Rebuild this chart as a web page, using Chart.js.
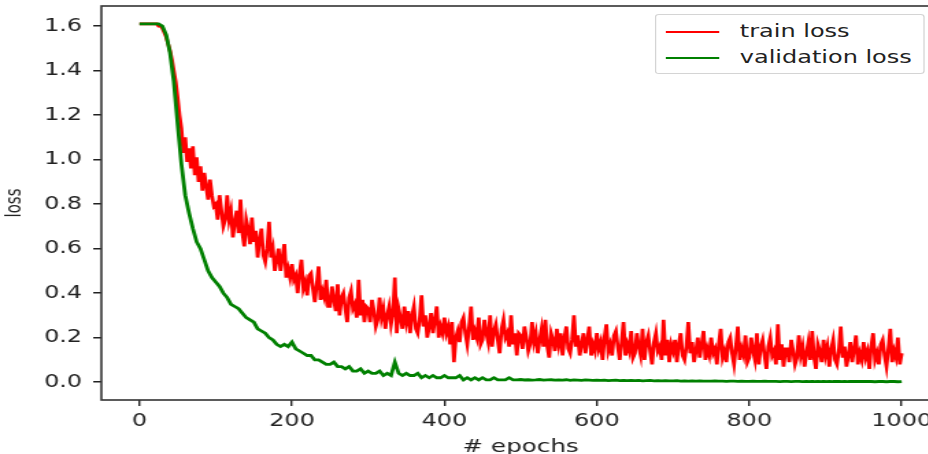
<!DOCTYPE html>
<html>
<head>
<meta charset="utf-8">
<script src="https://cdn.jsdelivr.net/npm/chart.js@4.4.0/dist/chart.umd.min.js"></script>
<style>
    html, body { margin: 0; padding: 0; background: #fff; overflow: hidden; }
    #wrap { position: relative; width: 928px; height: 454px; overflow: hidden; }
    /* the source figure is stretched sideways, so draw narrow and widen */
    #plot { position: absolute; left: 0; top: 0; width: 690px; height: 454px; transform: scaleX(1.37); transform-origin: 0 0; }
    #lossChart { position: absolute; left: 0; top: 0; }
    #legend {
        position: absolute; left: 478px; top: 14px; width: 195px; height: 58px;
        border: 1px solid #d4d4d4; border-radius: 3px; background: #fff;
        font-family: "DejaVu Sans", sans-serif; font-size: 17.5px; color: #222;
    }
    .item { position: absolute; left: 7px; height: 22px; line-height: 22px; white-space: nowrap; }
    .swatch { display: inline-block; width: 39px; height: 2.5px; vertical-align: middle; margin-right: 15px; }
</style>
</head>
<body>
<div id="wrap">
  <div id="plot">
    <canvas id="lossChart" width="690" height="454"></canvas>
    <div id="legend">
        <div class="item" style="top:5px"><span class="swatch" style="background:#ff0000"></span>train loss</div>
        <div class="item" style="top:31px"><span class="swatch" style="background:#008000"></span>validation loss</div>
    </div>
  </div>
</div>
<script>
const trainLoss = [
    1.61, 1.61, 1.61, 1.61, 1.61, 1.61, 1.61, 1.61, 1.61, 1.61, 1.60, 1.60, 1.59, 1.57, 1.55, 1.52, 1.49, 1.45, 1.40, 1.35,
    1.28, 1.20, 1.14, 1.03, 1.10, 0.99, 1.05, 0.96, 1.06, 0.93, 1.01, 0.90, 0.97, 0.86, 0.94, 0.88, 0.82, 0.91, 0.84, 0.79,
    0.80, 0.73, 0.84, 0.77, 0.70, 0.73, 0.84, 0.73, 0.77, 0.65, 0.72, 0.77, 0.67, 0.82, 0.67, 0.61, 0.73, 0.69, 0.62, 0.74,
    0.63, 0.68, 0.56, 0.64, 0.69, 0.57, 0.54, 0.60, 0.72, 0.56, 0.60, 0.50, 0.55, 0.60, 0.50, 0.56, 0.62, 0.47, 0.51, 0.47,
    0.53, 0.46, 0.48, 0.40, 0.49, 0.55, 0.42, 0.45, 0.39, 0.48, 0.49, 0.42, 0.36, 0.44, 0.52, 0.37, 0.41, 0.38, 0.46, 0.34,
    0.34, 0.43, 0.37, 0.32, 0.44, 0.30, 0.38, 0.40, 0.33, 0.27, 0.38, 0.41, 0.33, 0.35, 0.29, 0.46, 0.30, 0.37, 0.27, 0.34,
    0.33, 0.27, 0.37, 0.32, 0.25, 0.28, 0.38, 0.29, 0.33, 0.24, 0.30, 0.34, 0.26, 0.31, 0.47, 0.22, 0.33, 0.29, 0.24, 0.34,
    0.27, 0.32, 0.22, 0.30, 0.34, 0.24, 0.22, 0.28, 0.39, 0.25, 0.30, 0.20, 0.25, 0.31, 0.22, 0.28, 0.34, 0.20, 0.25, 0.22,
    0.29, 0.22, 0.25, 0.17, 0.27, 0.09, 0.20, 0.23, 0.18, 0.27, 0.29, 0.22, 0.17, 0.25, 0.34, 0.19, 0.23, 0.20, 0.29, 0.17,
    0.19, 0.28, 0.22, 0.18, 0.30, 0.16, 0.23, 0.26, 0.19, 0.13, 0.24, 0.28, 0.20, 0.22, 0.16, 0.30, 0.17, 0.22, 0.12, 0.22,
    0.21, 0.15, 0.25, 0.20, 0.14, 0.17, 0.27, 0.18, 0.22, 0.13, 0.19, 0.24, 0.16, 0.28, 0.16, 0.11, 0.22, 0.19, 0.14, 0.24,
    0.17, 0.22, 0.12, 0.20, 0.25, 0.15, 0.13, 0.19, 0.30, 0.16, 0.21, 0.12, 0.17, 0.22, 0.13, 0.19, 0.25, 0.12, 0.17, 0.14,
    0.22, 0.15, 0.18, 0.10, 0.20, 0.26, 0.14, 0.17, 0.12, 0.21, 0.23, 0.16, 0.10, 0.18, 0.27, 0.12, 0.17, 0.14, 0.23, 0.11,
    0.13, 0.22, 0.16, 0.12, 0.24, 0.10, 0.18, 0.21, 0.14, 0.08, 0.18, 0.22, 0.14, 0.16, 0.10, 0.28, 0.12, 0.19, 0.09, 0.17,
    0.14, 0.19, 0.09, 0.17, 0.22, 0.12, 0.10, 0.16, 0.27, 0.13, 0.18, 0.09, 0.14, 0.20, 0.11, 0.17, 0.23, 0.10, 0.15, 0.12,
    0.20, 0.13, 0.15, 0.08, 0.17, 0.24, 0.11, 0.14, 0.09, 0.18, 0.20, 0.13, 0.08, 0.16, 0.25, 0.10, 0.15, 0.12, 0.21, 0.09,
    0.11, 0.20, 0.14, 0.10, 0.22, 0.08, 0.16, 0.19, 0.12, 0.06, 0.16, 0.20, 0.12, 0.14, 0.08, 0.26, 0.10, 0.17, 0.07, 0.15,
    0.15, 0.09, 0.19, 0.14, 0.08, 0.11, 0.21, 0.12, 0.16, 0.07, 0.13, 0.18, 0.10, 0.23, 0.11, 0.06, 0.17, 0.14, 0.09, 0.19,
    0.12, 0.16, 0.07, 0.15, 0.19, 0.10, 0.08, 0.14, 0.25, 0.11, 0.16, 0.07, 0.12, 0.18, 0.09, 0.15, 0.21, 0.08, 0.13, 0.10,
    0.18, 0.11, 0.14, 0.06, 0.16, 0.22, 0.10, 0.13, 0.08, 0.17, 0.19, 0.12, 0.07, 0.15, 0.24, 0.09, 0.14, 0.11, 0.20, 0.08,
    0.13
];

const validationLoss = [
    1.61, 1.61, 1.61, 1.61, 1.61, 1.61, 1.60, 1.56, 1.48, 1.35,
    1.16, 0.98, 0.84, 0.76, 0.69, 0.63, 0.60, 0.55, 0.50, 0.47,
    0.45, 0.43, 0.40, 0.38, 0.35, 0.34, 0.33, 0.31, 0.29, 0.28,
    0.27, 0.24, 0.23, 0.22, 0.20, 0.19, 0.17, 0.16, 0.17, 0.16,
    0.18, 0.15, 0.14, 0.13, 0.12, 0.12, 0.10, 0.10, 0.09, 0.08,
    0.08, 0.09, 0.07, 0.07, 0.06, 0.07, 0.05, 0.05, 0.06, 0.04,
    0.05, 0.04, 0.04, 0.05, 0.03, 0.04, 0.03, 0.09, 0.04, 0.03,
    0.04, 0.03, 0.03, 0.04, 0.02, 0.03, 0.02, 0.03, 0.02, 0.02,
    0.03, 0.02, 0.02, 0.02, 0.03, 0.01, 0.02, 0.01, 0.02, 0.01,
    0.02, 0.01, 0.01, 0.02, 0.01, 0.01, 0.01, 0.02, 0.01, 0.01,
    0.012, 0.010, 0.011, 0.009, 0.010, 0.012, 0.009, 0.010, 0.011, 0.009,
    0.010, 0.009, 0.011, 0.008, 0.010, 0.009, 0.008, 0.010, 0.009, 0.008,
    0.009, 0.008, 0.009, 0.007, 0.008, 0.009, 0.007, 0.008, 0.007, 0.008,
    0.007, 0.008, 0.006, 0.007, 0.008, 0.006, 0.007, 0.006, 0.007, 0.006,
    0.006, 0.007, 0.005, 0.006, 0.005, 0.006, 0.005, 0.006, 0.005, 0.005,
    0.005, 0.006, 0.005, 0.005, 0.004, 0.005, 0.005, 0.004, 0.005, 0.004,
    0.004, 0.005, 0.004, 0.004, 0.005, 0.004, 0.004, 0.004, 0.003, 0.004,
    0.004, 0.003, 0.004, 0.004, 0.003, 0.004, 0.003, 0.003, 0.004, 0.003,
    0.003, 0.004, 0.003, 0.003, 0.003, 0.004, 0.003, 0.003, 0.003, 0.003,
    0.003, 0.003, 0.003, 0.002, 0.003, 0.003, 0.002, 0.003, 0.003, 0.002,
    0.003
];

const trainEpochs = trainLoss.map((_, i) => i * 2.5);
const validationEpochs = validationLoss.map((_, i) => i * 5);
const xTicks = [0, 200, 400, 600, 800, 1000];
const yTicks = [0.0, 0.2, 0.4, 0.6, 0.8, 1.0, 1.2, 1.4, 1.6];

const tickFont = { family: 'DejaVu Sans', size: 17.5 };

// matplotlib-like frame around the plot area
const framePlugin = {
    id: 'frame',
    afterDraw(chart) {
        const { ctx, chartArea: a } = chart;
        ctx.save();
        ctx.strokeStyle = '#333';
        ctx.lineWidth = 1.6;
        ctx.strokeRect(a.left, a.top, a.right - a.left, a.bottom - a.top);
        ctx.restore();
    }
};

const ctx = document.getElementById('lossChart').getContext('2d');
new Chart(ctx, {
    type: 'line',
    data: {
        datasets: [{
            label: 'train loss',
            data: trainEpochs.map((e, i) => ({ x: e, y: trainLoss[i] })),
            borderColor: '#ff0000',
            borderWidth: 2.7,
            pointRadius: 0,
            tension: 0,
            order: 1
        }, {
            label: 'validation loss',
            data: validationEpochs.map((e, i) => ({ x: e, y: validationLoss[i] })),
            borderColor: '#008000',
            borderWidth: 2.8,
            pointRadius: 0,
            tension: 0,
            order: 0
        }]
    },
    options: {
        responsive: false,
        animation: false,
        layout: { padding: { left: 0, top: 6, right: 4, bottom: 0 } },
        plugins: { legend: { display: false }, tooltip: { enabled: false } },
        scales: {
            x: {
                type: 'linear',
                min: -50,
                max: 1050,
                afterBuildTicks: axis => { axis.ticks = xTicks.map(v => ({ value: v })); },
                afterFit: axis => { axis.height = 54; axis.paddingLeft = 0; axis.paddingRight = 0; },
                ticks: { font: tickFont, color: '#222', padding: 5, maxRotation: 0, callback: v => String(v) },
                grid: { drawOnChartArea: false, tickLength: 6, color: '#222', lineWidth: 1.4 },
                border: { display: false },
                title: { display: true, text: '# epochs', font: { family: 'DejaVu Sans', size: 18 }, color: '#222', padding: { top: 0, bottom: -4 } }
            },
            y: {
                min: -0.08,
                max: 1.69,
                afterBuildTicks: axis => { axis.ticks = yTicks.map(v => ({ value: v })); },
                afterFit: axis => { axis.width = 74; axis.paddingTop = 0; axis.paddingBottom = 0; },
                ticks: { font: tickFont, color: '#222', padding: 8, callback: v => v.toFixed(1) },
                grid: { drawOnChartArea: false, tickLength: 6, color: '#222', lineWidth: 1.5 },
                border: { display: false },
                title: { display: true, text: 'loss', font: { family: 'DejaVu Sans', size: 15 }, color: '#222', padding: { top: 2, bottom: 0 } }
            }
        }
    },
    plugins: [framePlugin]
});
</script>
</body>
</html>
